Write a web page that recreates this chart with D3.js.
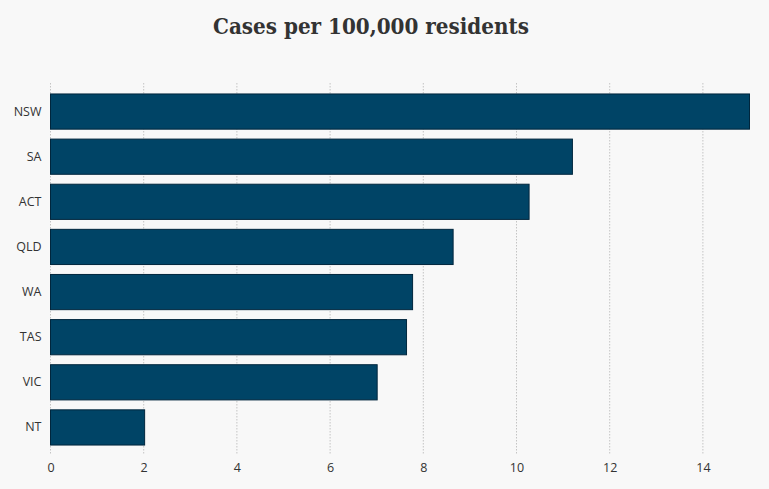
<!DOCTYPE html>
<html>
<head>
<meta charset="utf-8">
<script src="https://cdn.jsdelivr.net/npm/d3@7"></script>
<style>
  html, body { margin: 0; padding: 0; background: #f8f8f8; }
  svg { display: block; }
</style>
</head>
<body>
<svg id="chart" width="769" height="489"></svg>
<script>
const states = ["NSW", "SA", "ACT", "QLD", "WA", "TAS", "VIC", "NT"];
const cases = [15.0, 11.2, 10.27, 8.64, 7.77, 7.64, 7.01, 2.02];
const xTicks = [0, 2, 4, 6, 8, 10, 12, 14];
const title = "Cases per 100,000 residents";

const svg = d3.select("#chart");
svg.append("rect").attr("width", 769).attr("height", 489).attr("fill", "#f8f8f8");

const x = d3.scaleLinear().domain([0, 15]).range([50.5, 749.5]);
const y = d3.scaleBand().domain(states).range([89, 450]).paddingInner(0.22).paddingOuter(0.11);

// gridlines
svg.append("g").selectAll("line").data(xTicks).join("line")
  .attr("x1", d => x(d)).attr("x2", d => x(d))
  .attr("y1", 83).attr("y2", 454)
  .attr("stroke", "#c4c4c4").attr("stroke-width", 1)
  .attr("stroke-dasharray", "1.5,1.5");

// bars
svg.append("g").selectAll("rect").data(states).join("rect")
  .attr("x", x(0))
  .attr("y", d => y(d))
  .attr("width", (d, i) => x(cases[i]) - x(0))
  .attr("height", y.bandwidth())
  .attr("fill", "#004466")
  .attr("stroke", "#00263d").attr("stroke-width", 1);

// y axis labels
const yAxis = d3.axisLeft(y).tickSize(0).tickPadding(9);
const gy = svg.append("g").attr("transform", `translate(${x(0)},0)`).call(yAxis);
gy.select(".domain").remove();
gy.selectAll("text").attr("font-family", "'Open Sans', sans-serif").attr("font-size", 12.5).attr("fill", "#333");

// x axis labels
const xAxis = d3.axisBottom(x).tickValues(xTicks).tickSize(0).tickPadding(0).tickFormat(d3.format("d"));
const gx = svg.append("g").attr("transform", `translate(0,463)`).call(xAxis);
gx.select(".domain").remove();
gx.selectAll("text").attr("font-family", "'Open Sans', sans-serif").attr("font-size", 12.5).attr("fill", "#333");

// title
svg.append("text")
  .attr("x", 371).attr("y", 34)
  .attr("text-anchor", "middle")
  .attr("font-family", "'DejaVu Serif Condensed', 'DejaVu Serif', serif")
  .attr("font-stretch", "condensed")
  .attr("font-weight", "bold")
  .attr("font-size", 23)
  .attr("textLength", 316)
  .attr("lengthAdjust", "spacingAndGlyphs")
  .attr("fill", "#333")
  .text(title);
</script>
</body>
</html>
